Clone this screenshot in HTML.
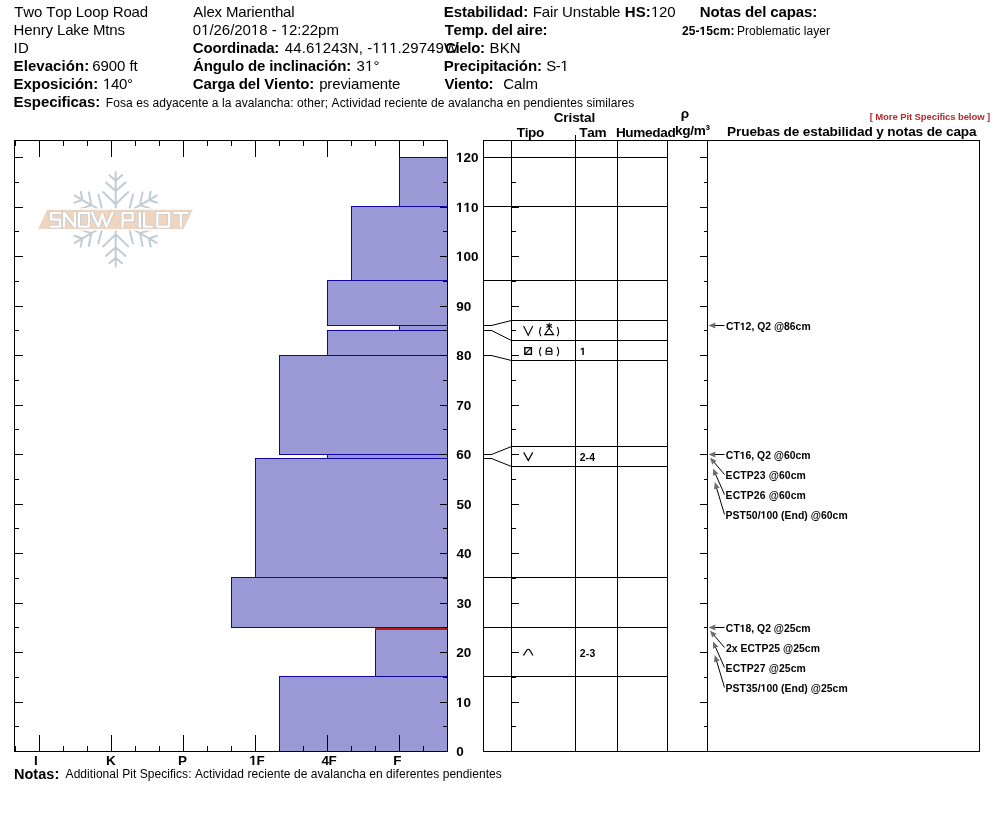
<!DOCTYPE html>
<html><head><meta charset="utf-8"><style>
html,body{margin:0;padding:0;background:#fff;overflow:hidden;}
svg{display:block;will-change:transform;}
text{font-family:"Liberation Sans", sans-serif;}
</style></head><body>
<svg width="994" height="840" viewBox="0 0 994 840">
<rect width="994" height="840" fill="#fff"/>
<defs><path id="r0" d="M515 0V-1237L197 -1010V-1180L530 -1409H696V0Z"/><path id="b1" d="M478 0V-1170L140 -959V-1180L493 -1409H759V0Z"/></defs>
<text x="14.26 23.30 34.01 42.22 46.27 55.30 63.52 71.73 75.78 83.99 92.21 100.43 108.64 112.68 123.39 131.61 139.82" y="17" font-size="15" fill="#000" xml:space="preserve">Two Top Loop Road</text>
<text x="13.57 24.27 32.47 40.68 45.54 52.90 56.93 65.14 73.34 80.71 88.91 92.95 105.30 109.34 117.54" y="35" font-size="15" fill="#000" xml:space="preserve">Henry Lake Mtns</text>
<text x="13.42 17.99" y="53" font-size="15" fill="#000" xml:space="preserve">ID</text>
<text x="13.60 23.66 27.88 36.28 44.68 53.08 61.48 65.71 74.93 84.15" y="71" font-size="15" font-weight="700" fill="#000" xml:space="preserve">Elevación:</text>
<text x="92.24 100.51 108.79 117.07 125.34 129.44 133.54" y="71" font-size="15" fill="#000" xml:space="preserve">6900 ft</text>
<text x="13.60 23.56 31.87 41.00 50.12 58.43 62.56 70.86 75.00 84.12 93.25" y="89" font-size="15" font-weight="700" fill="#000" xml:space="preserve">Exposición:</text>
<text x="102.96 110.94 118.92 126.90" y="89" font-size="15" fill="#000" xml:space="preserve"> 40°</text>
<text x="13.60 23.53 31.80 40.89 49.16 57.43 61.52 66.44 70.54 78.81 87.08 95.35" y="107" font-size="15" font-weight="700" fill="#000" xml:space="preserve">Especificas:</text>
<text x="105.82 113.22 119.96 126.04 132.78 136.19 142.93 149.01 152.41 159.16 165.91 171.98 178.72 184.80 191.54 198.29 201.69 208.44 211.85 218.59 222.00 224.74 231.48 234.89 241.64 247.71 254.45 257.19 263.94 270.68 276.76 283.50 290.25 293.65 297.06 303.81 307.21 313.96 320.71 324.77 328.18 331.59 339.66 345.73 349.14 351.88 357.95 360.69 367.44 374.18 380.93 384.33 388.40 395.15 401.22 403.96 410.71 417.45 420.86 427.60 431.01 437.76 444.50 447.91 454.65 460.73 467.47 470.21 476.96 483.70 489.78 496.52 503.27 506.67 513.42 520.17 523.57 530.32 537.06 543.81 550.56 553.29 560.04 566.79 570.19 576.94 583.01 586.42 592.49 595.23 605.30 608.03 610.77 617.52 621.59 628.33" y="107" font-size="12" fill="#000" xml:space="preserve">Fosa es adyacente a la avalancha: other; Actividad reciente de avalancha en pendientes similares</text>
<text x="193.37 203.22 206.40 214.59 221.94 225.95 238.29 246.48 251.32 254.50 262.69 270.88 274.89 283.08 291.27" y="17" font-size="15" fill="#000" xml:space="preserve">Alex Marienthal</text>
<text x="192.81 201.12 209.42 213.56 221.86 230.17 234.30 242.60 250.91 259.21 267.52 271.65 276.61 280.74 289.04 297.35 301.48 309.78 318.09 326.39" y="35" font-size="15" fill="#000" xml:space="preserve">0 /26/20 8 -  2:22pm</text>
<text x="192.78 203.44 212.43 221.41 227.07 236.06 240.05 249.03 257.20 266.18 274.35" y="53" font-size="15" font-weight="700" fill="#000" xml:space="preserve">Coordinada:</text>
<text x="284.86 293.26 301.67 305.91 314.32 322.73 331.14 339.55 347.95 358.85 363.09 367.32 372.39 380.79 389.20 397.61 401.85 410.26 418.67 427.08 435.48 443.89" y="53" font-size="15" fill="#000" xml:space="preserve">44.6 243N, -   .29749W</text>
<text x="193.03 203.74 212.78 221.82 230.87 234.92 243.96 248.01 257.05 265.27 269.32 273.37 282.41 290.63 294.68 298.73 307.77 315.99 324.21 328.26 337.30 346.35" y="71" font-size="15" font-weight="700" fill="#000" xml:space="preserve">Ángulo de inclinación:</text>
<text x="356.53 365.02 373.50" y="71" font-size="15" fill="#000" xml:space="preserve">3 °</text>
<text x="192.78 203.51 211.74 217.46 226.51 234.74 238.80 247.85 256.08 260.13 264.19 274.08 278.13 286.36 295.41 300.30 309.35" y="89" font-size="15" font-weight="700" fill="#000" xml:space="preserve">Carga del Viento:</text>
<text x="319.13 327.35 332.23 340.45 347.83 351.04 359.26 371.64 379.86 388.08 392.12" y="89" font-size="15" fill="#000" xml:space="preserve">previamente</text>
<text x="443.80 453.74 462.02 466.96 475.24 484.34 488.45 492.55 496.66 505.76 514.05 523.15" y="17" font-size="15" font-weight="700" fill="#000" xml:space="preserve">Estabilidad:</text>
<text x="532.67 541.72 549.94 553.16 558.03 562.08 572.80 581.02 588.41 592.46 600.68 608.91 612.12" y="17" font-size="15" fill="#000" xml:space="preserve">Fair Unstable</text>
<text x="624.80 635.69 645.75" y="17" font-size="15" font-weight="700" fill="#000" xml:space="preserve">HS:</text>
<text x="650.96 659.10 667.24" y="17" font-size="15" fill="#000" xml:space="preserve"> 20</text>
<text x="444.63 453.58 461.71 474.84 483.79 487.75 491.71 500.66 508.79 512.75 516.70 524.83 528.79 534.42 542.55" y="35" font-size="15" font-weight="700" fill="#000" xml:space="preserve">Temp. del aire:</text>
<text x="444.98 455.50 459.34 467.36 471.21 480.05" y="53" font-size="15" font-weight="700" fill="#000" xml:space="preserve">Cielo:</text>
<text x="489.57 499.63 509.69" y="53" font-size="15" fill="#000" xml:space="preserve">BKN</text>
<text x="443.80 453.73 459.49 467.76 476.03 480.13 489.22 493.31 498.23 506.50 514.77 518.87 527.96 537.05" y="71" font-size="15" font-weight="700" fill="#000" xml:space="preserve">Precipitación:</text>
<text x="546.15 555.76 560.35" y="71" font-size="15" fill="#000" xml:space="preserve">S- </text>
<text x="444.40 454.12 458.01 466.07 474.95 479.67 488.55" y="89" font-size="15" font-weight="700" fill="#000" xml:space="preserve">Viento:</text>
<text x="503.14 513.95 522.28 525.59" y="89" font-size="15" fill="#000" xml:space="preserve">Calm</text>
<text x="699.80 710.51 719.56 724.43 732.66 740.88 744.93 753.98 762.20 766.25 770.30 778.53 786.75 795.80 804.02 812.25" y="17" font-size="15" font-weight="700" fill="#000" xml:space="preserve">Notas del capas:</text>
<text x="681.88 688.65 695.41 699.50 706.27 713.03 719.80 730.56" y="35" font-size="12" font-weight="700" fill="#000" xml:space="preserve">25- 5cm:</text>
<text x="736.92 744.94 748.95 755.64 762.33 765.02 771.71 781.72 788.41 791.77 794.45 800.47 803.82 806.50 813.19 819.21 825.90" y="35" font-size="12" fill="#000" xml:space="preserve">Problematic layer</text>
<text x="13.93 24.45 33.36 38.24 46.35 54.47" y="779" font-size="14.5" font-weight="700" fill="#000" xml:space="preserve">Notas:</text>
<text x="65.58 73.63 80.35 87.08 89.79 93.17 95.89 102.61 109.34 116.06 118.77 122.16 130.21 132.93 136.31 139.69 147.75 154.47 161.19 167.24 169.96 173.34 176.05 182.10 188.15 191.54 194.92 202.97 209.02 212.40 215.12 221.17 223.88 230.61 237.33 244.05 247.44 251.48 258.21 264.25 266.97 273.69 280.42 283.80 290.52 293.91 300.63 307.35 310.73 317.46 323.51 330.23 332.95 339.67 346.39 352.44 359.16 365.89 369.27 375.99 382.72 386.10 392.82 395.54 398.92 405.64 409.69 416.41 423.14 426.52 433.24 439.29 442.67 449.40 456.12 462.84 469.57 472.28 479.00 485.73 489.11 495.83" y="778" font-size="12" fill="#000" xml:space="preserve">Additional Pit Specifics: Actividad reciente de avalancha en diferentes pendientes</text>
<text x="553.64 563.33 568.49 572.13 579.56 583.96 591.38" y="122" font-size="13.6" font-weight="700" fill="#000" xml:space="preserve">Cristal</text>
<text x="516.85 524.75 528.12 536.02" y="137" font-size="13.6" font-weight="700" fill="#000" xml:space="preserve">Tipo</text>
<text x="579.31 587.22 594.38" y="137" font-size="13.6" font-weight="700" fill="#000" xml:space="preserve">Tam</text>
<text x="615.89 625.37 633.33 645.08 652.30 660.27 667.49" y="137" font-size="13.6" font-weight="700" fill="#000" xml:space="preserve">Humedad</text>
<text x="674.95 682.21 690.21 693.68 705.46" y="135" font-size="13.6" font-weight="700" fill="#000" xml:space="preserve">kg/m³</text>
<text x="727.09 736.04 741.21 749.40 756.85 765.03 772.48 779.92 783.58 791.77 799.21 802.87 810.31 817.76 822.17 829.61 837.80 841.46 845.12 848.77 856.96 864.41 872.59 876.25 883.70 887.35 895.54 903.73 908.14 915.58 923.03 926.68 934.87 942.32 945.97 953.42 960.86 969.05" y="136" font-size="13.6" font-weight="700" fill="#000" xml:space="preserve">Pruebas de estabilidad y notas de capa</text>
<text x="869.67 872.74 875.28 883.10 888.81 892.42 897.60 900.15 906.39 908.94 912.01 914.56 920.80 926.51 931.70 936.89 939.43 942.50 945.05 950.24 955.43 957.97 963.68 968.87 971.42 977.13 984.42 986.97" y="120" font-size="9.5" font-weight="700" fill="#b52a2a" xml:space="preserve">[ More Pit Specifics below ]</text>
<text x="725.97 733.48 739.83 745.61 751.39 754.28 757.16 765.25 771.03 773.92 784.06 789.84 795.62 801.40" y="330" font-size="10.4" font-weight="700" fill="#000" xml:space="preserve">CT 2, Q2 @86cm</text>
<text x="725.87 733.38 739.73 745.51 751.29 754.18 757.06 765.15 770.93 773.82 783.96 789.74 795.52 801.30" y="459" font-size="10.4" font-weight="700" fill="#000" xml:space="preserve">CT 6, Q2 @60cm</text>
<text x="725.60 732.66 740.29 746.76 753.82 759.72 765.62 768.63 778.89 784.79 790.69 796.60" y="479" font-size="10.4" font-weight="700" fill="#000" xml:space="preserve">ECTP23 @60cm</text>
<text x="725.60 732.66 740.29 746.76 753.82 759.72 765.62 768.63 778.89 784.79 790.69 796.60" y="499" font-size="10.4" font-weight="700" fill="#000" xml:space="preserve">ECTP26 @60cm</text>
<text x="725.60 732.59 739.57 745.97 751.80 757.63 760.56 766.39 772.22 778.05 780.99 784.50 791.48 797.88 804.28 807.79 810.72 820.91 826.74 832.57 838.40" y="518.5" font-size="10.4" font-weight="700" fill="#000" xml:space="preserve">PST50/ 00 (End) @60cm</text>
<text x="725.87 733.38 739.73 745.51 751.29 754.18 757.06 765.15 770.93 773.82 783.96 789.74 795.52 801.30" y="632" font-size="10.4" font-weight="700" fill="#000" xml:space="preserve">CT 8, Q2 @25cm</text>
<text x="725.94 731.77 737.60 740.53 747.51 755.06 761.46 768.44 774.27 780.10 783.03 793.21 799.04 804.87 810.70" y="652" font-size="10.4" font-weight="700" fill="#000" xml:space="preserve">2x ECTP25 @25cm</text>
<text x="725.60 732.66 740.29 746.76 753.82 759.72 765.62 768.63 778.89 784.79 790.69 796.60" y="672" font-size="10.4" font-weight="700" fill="#000" xml:space="preserve">ECTP27 @25cm</text>
<text x="725.60 732.59 739.57 745.97 751.80 757.63 760.56 766.39 772.22 778.05 780.99 784.50 791.48 797.88 804.28 807.79 810.72 820.91 826.74 832.57 838.40" y="691.5" font-size="10.4" font-weight="700" fill="#000" xml:space="preserve">PST35/ 00 (End) @25cm</text>
<text x="680.70" y="118" font-size="13.6" font-weight="700" fill="#000" xml:space="preserve">ρ</text>
<text x="34.10" y="765" font-size="13.5" font-weight="700" fill="#000" xml:space="preserve">I</text>
<text x="106.00" y="765" font-size="13.5" font-weight="700" fill="#000" xml:space="preserve">K</text>
<text x="177.90" y="765" font-size="13.5" font-weight="700" fill="#000" xml:space="preserve">P</text>
<text x="249.29 256.40" y="765" font-size="13.5" font-weight="700" fill="#000" xml:space="preserve"> F</text>
<text x="321.47 328.58" y="765" font-size="13.5" font-weight="700" fill="#000" xml:space="preserve">4F</text>
<text x="393.20" y="765" font-size="13.5" font-weight="700" fill="#000" xml:space="preserve">F</text>
<rect x="399" y="157" width="48" height="49" fill="#9999d6"/>
<rect x="351" y="206" width="96" height="74" fill="#9999d6"/>
<rect x="327" y="280" width="120" height="45" fill="#9999d6"/>
<rect x="399" y="325" width="48" height="5" fill="#9999d6"/>
<rect x="327" y="330" width="120" height="25" fill="#9999d6"/>
<rect x="279" y="355" width="168" height="99" fill="#9999d6"/>
<rect x="327" y="454" width="120" height="4" fill="#9999d6"/>
<rect x="255" y="458" width="192" height="119" fill="#9999d6"/>
<rect x="231" y="577" width="216" height="50" fill="#9999d6"/>
<rect x="375" y="627" width="72" height="49" fill="#9999d6"/>
<rect x="279" y="676" width="168" height="75" fill="#9999d6"/>
<rect x="399" y="157" width="49" height="1" fill="#1206a6"/>
<rect x="399" y="157" width="1" height="50" fill="#1206a6"/>
<rect x="399" y="206" width="49" height="1" fill="#1206a6"/>
<rect x="351" y="206" width="97" height="1" fill="#1206a6"/>
<rect x="351" y="206" width="1" height="75" fill="#1206a6"/>
<rect x="351" y="280" width="97" height="1" fill="#1206a6"/>
<rect x="327" y="280" width="121" height="1" fill="#1206a6"/>
<rect x="327" y="280" width="1" height="46" fill="#1206a6"/>
<rect x="327" y="325" width="121" height="1" fill="#1206a6"/>
<rect x="399" y="325" width="49" height="1" fill="#1206a6"/>
<rect x="399" y="325" width="1" height="6" fill="#1206a6"/>
<rect x="399" y="330" width="49" height="1" fill="#1206a6"/>
<rect x="327" y="330" width="121" height="1" fill="#1206a6"/>
<rect x="327" y="330" width="1" height="26" fill="#1206a6"/>
<rect x="327" y="355" width="121" height="1" fill="#1206a6"/>
<rect x="279" y="355" width="169" height="1" fill="#1206a6"/>
<rect x="279" y="355" width="1" height="100" fill="#1206a6"/>
<rect x="279" y="454" width="169" height="1" fill="#1206a6"/>
<rect x="327" y="454" width="121" height="1" fill="#1206a6"/>
<rect x="327" y="454" width="1" height="5" fill="#1206a6"/>
<rect x="327" y="458" width="121" height="1" fill="#1206a6"/>
<rect x="255" y="458" width="193" height="1" fill="#1206a6"/>
<rect x="255" y="458" width="1" height="120" fill="#1206a6"/>
<rect x="255" y="577" width="193" height="1" fill="#1206a6"/>
<rect x="231" y="577" width="217" height="1" fill="#1206a6"/>
<rect x="231" y="577" width="1" height="51" fill="#1206a6"/>
<rect x="231" y="627" width="217" height="1" fill="#1206a6"/>
<rect x="375" y="627" width="73" height="1" fill="#1206a6"/>
<rect x="375" y="627" width="1" height="50" fill="#1206a6"/>
<rect x="375" y="676" width="73" height="1" fill="#1206a6"/>
<rect x="279" y="676" width="169" height="1" fill="#1206a6"/>
<rect x="279" y="676" width="1" height="76" fill="#1206a6"/>
<rect x="279" y="751" width="169" height="1" fill="#1206a6"/>
<rect x="375" y="628" width="72" height="2" fill="#b81c14"/>
<rect x="14" y="140" width="434" height="1" fill="#000"/>
<rect x="14" y="751" width="434" height="1" fill="#000"/>
<rect x="14" y="140" width="1" height="612" fill="#000"/>
<rect x="447" y="140" width="1" height="612" fill="#000"/>
<rect x="15" y="140" width="1" height="6" fill="#000"/>
<rect x="15" y="746" width="1" height="6" fill="#000"/>
<rect x="39" y="140" width="1" height="17" fill="#000"/>
<rect x="39" y="735" width="1" height="17" fill="#000"/>
<rect x="63" y="140" width="1" height="6" fill="#000"/>
<rect x="63" y="746" width="1" height="6" fill="#000"/>
<rect x="87" y="140" width="1" height="6" fill="#000"/>
<rect x="87" y="746" width="1" height="6" fill="#000"/>
<rect x="111" y="140" width="1" height="17" fill="#000"/>
<rect x="111" y="735" width="1" height="17" fill="#000"/>
<rect x="135" y="140" width="1" height="6" fill="#000"/>
<rect x="135" y="746" width="1" height="6" fill="#000"/>
<rect x="159" y="140" width="1" height="6" fill="#000"/>
<rect x="159" y="746" width="1" height="6" fill="#000"/>
<rect x="183" y="140" width="1" height="17" fill="#000"/>
<rect x="183" y="735" width="1" height="17" fill="#000"/>
<rect x="207" y="140" width="1" height="6" fill="#000"/>
<rect x="207" y="746" width="1" height="6" fill="#000"/>
<rect x="231" y="140" width="1" height="6" fill="#000"/>
<rect x="231" y="746" width="1" height="6" fill="#000"/>
<rect x="255" y="140" width="1" height="17" fill="#000"/>
<rect x="255" y="735" width="1" height="17" fill="#000"/>
<rect x="279" y="140" width="1" height="6" fill="#000"/>
<rect x="279" y="746" width="1" height="6" fill="#000"/>
<rect x="303" y="140" width="1" height="6" fill="#000"/>
<rect x="303" y="746" width="1" height="6" fill="#000"/>
<rect x="327" y="140" width="1" height="17" fill="#000"/>
<rect x="327" y="735" width="1" height="17" fill="#000"/>
<rect x="351" y="140" width="1" height="6" fill="#000"/>
<rect x="351" y="746" width="1" height="6" fill="#000"/>
<rect x="375" y="140" width="1" height="6" fill="#000"/>
<rect x="375" y="746" width="1" height="6" fill="#000"/>
<rect x="399" y="140" width="1" height="17" fill="#000"/>
<rect x="399" y="735" width="1" height="17" fill="#000"/>
<rect x="423" y="140" width="1" height="6" fill="#000"/>
<rect x="423" y="746" width="1" height="6" fill="#000"/>
<rect x="14" y="751" width="9" height="1" fill="#000"/>
<rect x="440" y="751" width="8" height="1" fill="#000"/>
<rect x="14" y="726" width="5" height="1" fill="#000"/>
<rect x="443" y="726" width="5" height="1" fill="#000"/>
<rect x="14" y="702" width="9" height="1" fill="#000"/>
<rect x="440" y="702" width="8" height="1" fill="#000"/>
<rect x="14" y="677" width="5" height="1" fill="#000"/>
<rect x="443" y="677" width="5" height="1" fill="#000"/>
<rect x="14" y="652" width="9" height="1" fill="#000"/>
<rect x="440" y="652" width="8" height="1" fill="#000"/>
<rect x="14" y="627" width="5" height="1" fill="#000"/>
<rect x="443" y="627" width="5" height="1" fill="#000"/>
<rect x="14" y="603" width="9" height="1" fill="#000"/>
<rect x="440" y="603" width="8" height="1" fill="#000"/>
<rect x="14" y="578" width="5" height="1" fill="#000"/>
<rect x="443" y="578" width="5" height="1" fill="#000"/>
<rect x="14" y="553" width="9" height="1" fill="#000"/>
<rect x="440" y="553" width="8" height="1" fill="#000"/>
<rect x="14" y="528" width="5" height="1" fill="#000"/>
<rect x="443" y="528" width="5" height="1" fill="#000"/>
<rect x="14" y="504" width="9" height="1" fill="#000"/>
<rect x="440" y="504" width="8" height="1" fill="#000"/>
<rect x="14" y="479" width="5" height="1" fill="#000"/>
<rect x="443" y="479" width="5" height="1" fill="#000"/>
<rect x="14" y="454" width="9" height="1" fill="#000"/>
<rect x="440" y="454" width="8" height="1" fill="#000"/>
<rect x="14" y="429" width="5" height="1" fill="#000"/>
<rect x="443" y="429" width="5" height="1" fill="#000"/>
<rect x="14" y="405" width="9" height="1" fill="#000"/>
<rect x="440" y="405" width="8" height="1" fill="#000"/>
<rect x="14" y="380" width="5" height="1" fill="#000"/>
<rect x="443" y="380" width="5" height="1" fill="#000"/>
<rect x="14" y="355" width="9" height="1" fill="#000"/>
<rect x="440" y="355" width="8" height="1" fill="#000"/>
<rect x="14" y="330" width="5" height="1" fill="#000"/>
<rect x="443" y="330" width="5" height="1" fill="#000"/>
<rect x="14" y="306" width="9" height="1" fill="#000"/>
<rect x="440" y="306" width="8" height="1" fill="#000"/>
<rect x="14" y="281" width="5" height="1" fill="#000"/>
<rect x="443" y="281" width="5" height="1" fill="#000"/>
<rect x="14" y="256" width="9" height="1" fill="#000"/>
<rect x="440" y="256" width="8" height="1" fill="#000"/>
<rect x="14" y="231" width="5" height="1" fill="#000"/>
<rect x="443" y="231" width="5" height="1" fill="#000"/>
<rect x="14" y="207" width="9" height="1" fill="#000"/>
<rect x="440" y="207" width="8" height="1" fill="#000"/>
<rect x="14" y="182" width="5" height="1" fill="#000"/>
<rect x="443" y="182" width="5" height="1" fill="#000"/>
<rect x="14" y="157" width="9" height="1" fill="#000"/>
<rect x="440" y="157" width="8" height="1" fill="#000"/>
<text x="456.27" y="756" font-size="13.5" font-weight="700" fill="#000" xml:space="preserve">0</text>
<text x="455.95 463.46" y="707" font-size="13.5" font-weight="700" fill="#000" xml:space="preserve"> 0</text>
<text x="456.33 463.84" y="657" font-size="13.5" font-weight="700" fill="#000" xml:space="preserve">20</text>
<text x="456.49 464.00" y="608" font-size="13.5" font-weight="700" fill="#000" xml:space="preserve">30</text>
<text x="456.60 464.10" y="558" font-size="13.5" font-weight="700" fill="#000" xml:space="preserve">40</text>
<text x="456.38 463.89" y="509" font-size="13.5" font-weight="700" fill="#000" xml:space="preserve">50</text>
<text x="456.31 463.81" y="459" font-size="13.5" font-weight="700" fill="#000" xml:space="preserve">60</text>
<text x="456.22 463.73" y="410" font-size="13.5" font-weight="700" fill="#000" xml:space="preserve">70</text>
<text x="456.37 463.88" y="360" font-size="13.5" font-weight="700" fill="#000" xml:space="preserve">80</text>
<text x="456.33 463.84" y="311" font-size="13.5" font-weight="700" fill="#000" xml:space="preserve">90</text>
<text x="455.95 463.46 470.97" y="261" font-size="13.5" font-weight="700" fill="#000" xml:space="preserve"> 00</text>
<text x="455.95 463.46 470.97" y="212" font-size="13.5" font-weight="700" fill="#000" xml:space="preserve">  0</text>
<text x="455.95 463.46 470.97" y="162" font-size="13.5" font-weight="700" fill="#000" xml:space="preserve"> 20</text>
<rect x="483" y="140" width="497" height="1" fill="#000"/>
<rect x="483" y="751" width="497" height="1" fill="#000"/>
<rect x="483" y="140" width="1" height="612" fill="#000"/>
<rect x="979" y="140" width="1" height="612" fill="#000"/>
<rect x="511" y="140" width="1" height="612" fill="#000"/>
<rect x="575" y="140" width="1" height="612" fill="#000"/>
<rect x="617" y="140" width="1" height="612" fill="#000"/>
<rect x="667" y="140" width="1" height="612" fill="#000"/>
<rect x="707" y="140" width="1" height="612" fill="#000"/>
<rect x="575" y="135" width="1" height="6" fill="#000"/>
<rect x="511" y="751" width="8" height="1" fill="#000"/>
<rect x="700" y="751" width="8" height="1" fill="#000"/>
<rect x="511" y="726" width="5" height="1" fill="#000"/>
<rect x="704" y="726" width="4" height="1" fill="#000"/>
<rect x="511" y="702" width="8" height="1" fill="#000"/>
<rect x="700" y="702" width="8" height="1" fill="#000"/>
<rect x="511" y="677" width="5" height="1" fill="#000"/>
<rect x="704" y="677" width="4" height="1" fill="#000"/>
<rect x="511" y="652" width="8" height="1" fill="#000"/>
<rect x="700" y="652" width="8" height="1" fill="#000"/>
<rect x="511" y="627" width="5" height="1" fill="#000"/>
<rect x="704" y="627" width="4" height="1" fill="#000"/>
<rect x="511" y="603" width="8" height="1" fill="#000"/>
<rect x="700" y="603" width="8" height="1" fill="#000"/>
<rect x="511" y="578" width="5" height="1" fill="#000"/>
<rect x="704" y="578" width="4" height="1" fill="#000"/>
<rect x="511" y="553" width="8" height="1" fill="#000"/>
<rect x="700" y="553" width="8" height="1" fill="#000"/>
<rect x="511" y="528" width="5" height="1" fill="#000"/>
<rect x="704" y="528" width="4" height="1" fill="#000"/>
<rect x="511" y="504" width="8" height="1" fill="#000"/>
<rect x="700" y="504" width="8" height="1" fill="#000"/>
<rect x="511" y="479" width="5" height="1" fill="#000"/>
<rect x="704" y="479" width="4" height="1" fill="#000"/>
<rect x="511" y="454" width="8" height="1" fill="#000"/>
<rect x="700" y="454" width="8" height="1" fill="#000"/>
<rect x="511" y="429" width="5" height="1" fill="#000"/>
<rect x="704" y="429" width="4" height="1" fill="#000"/>
<rect x="511" y="405" width="8" height="1" fill="#000"/>
<rect x="700" y="405" width="8" height="1" fill="#000"/>
<rect x="511" y="380" width="5" height="1" fill="#000"/>
<rect x="704" y="380" width="4" height="1" fill="#000"/>
<rect x="511" y="355" width="8" height="1" fill="#000"/>
<rect x="700" y="355" width="8" height="1" fill="#000"/>
<rect x="511" y="330" width="5" height="1" fill="#000"/>
<rect x="704" y="330" width="4" height="1" fill="#000"/>
<rect x="511" y="306" width="8" height="1" fill="#000"/>
<rect x="700" y="306" width="8" height="1" fill="#000"/>
<rect x="511" y="281" width="5" height="1" fill="#000"/>
<rect x="704" y="281" width="4" height="1" fill="#000"/>
<rect x="511" y="256" width="8" height="1" fill="#000"/>
<rect x="700" y="256" width="8" height="1" fill="#000"/>
<rect x="511" y="231" width="5" height="1" fill="#000"/>
<rect x="704" y="231" width="4" height="1" fill="#000"/>
<rect x="511" y="207" width="8" height="1" fill="#000"/>
<rect x="700" y="207" width="8" height="1" fill="#000"/>
<rect x="511" y="182" width="5" height="1" fill="#000"/>
<rect x="704" y="182" width="4" height="1" fill="#000"/>
<rect x="511" y="157" width="8" height="1" fill="#000"/>
<rect x="700" y="157" width="8" height="1" fill="#000"/>
<rect x="483" y="157" width="185" height="1" fill="#000"/>
<rect x="483" y="206" width="185" height="1" fill="#000"/>
<rect x="483" y="280" width="185" height="1" fill="#000"/>
<rect x="483" y="325" width="9" height="1" fill="#000"/>
<line x1="491.5" y1="325.5" x2="511.5" y2="320.5" stroke="#000" stroke-width="1"/>
<rect x="511" y="320" width="157" height="1" fill="#000"/>
<rect x="483" y="330" width="9" height="1" fill="#000"/>
<line x1="491.5" y1="330.5" x2="511.5" y2="340.5" stroke="#000" stroke-width="1"/>
<rect x="511" y="340" width="157" height="1" fill="#000"/>
<rect x="483" y="355" width="9" height="1" fill="#000"/>
<line x1="491.5" y1="355.5" x2="511.5" y2="360.5" stroke="#000" stroke-width="1"/>
<rect x="511" y="360" width="157" height="1" fill="#000"/>
<rect x="483" y="454" width="9" height="1" fill="#000"/>
<line x1="491.5" y1="454.5" x2="511.5" y2="446.5" stroke="#000" stroke-width="1"/>
<rect x="511" y="446" width="157" height="1" fill="#000"/>
<rect x="483" y="458" width="9" height="1" fill="#000"/>
<line x1="491.5" y1="458.5" x2="511.5" y2="466.5" stroke="#000" stroke-width="1"/>
<rect x="511" y="466" width="157" height="1" fill="#000"/>
<rect x="483" y="577" width="185" height="1" fill="#000"/>
<rect x="483" y="627" width="185" height="1" fill="#000"/>
<rect x="483" y="676" width="185" height="1" fill="#000"/>
<g fill="none" stroke="#000" stroke-width="1.1">
<path d="M523.6 326 L528.2 335.3 L532.8 326"/>
<path d="M541 327 Q538.2 331.6 541 336.2"/>
<path d="M544.8 334.6 L549.2 328.2 L553.6 334.6 Z"/>
<path d="M549.2 322.8 V328.6 M546.4 324.2 L552 327.4 M552 324.2 L546.4 327.4"/>
<path d="M557.2 327 Q560 331.6 557.2 336.2"/>
<rect x="524.8" y="347.7" width="6.6" height="6.6" stroke-width="1.4"/><path d="M524.8 354.3 L531.4 347.7"/>
<path d="M541 347 Q538.2 351.6 541 356.2"/>
<path d="M546.1 354.2 V350.6 A2.9 2.9 0 0 1 551.9 350.6 V354.2 Z M546.1 351.4 H551.9"/>
<path d="M557.2 347 Q560 351.6 557.2 356.2"/>
<path d="M523.7 452.4 L528.3 460.6 L532.7 452.4" stroke-width="1.2"/>
<path d="M523.4 655.5 L527 649.9 Q528.3 648.6 529.6 649.9 L533 655.5" stroke-width="1.2"/>
</g>
<text x="579.64 585.62 589.27" y="461" font-size="10.4" font-weight="700" fill="#000" xml:space="preserve">2-4</text>
<text x="579.64 585.78 589.59" y="657" font-size="10.4" font-weight="700" fill="#000" xml:space="preserve">2-3</text>
<line x1="724.5" y1="325.5" x2="713.5" y2="325.5" stroke="#000" stroke-width="1"/>
<path d="M708.5 325.5 L715.5 322.5 L714.9 325.5 L715.5 328.5 Z" fill="#6e6e6e"/>
<line x1="724.5" y1="454.5" x2="713.5" y2="454.5" stroke="#000" stroke-width="1"/>
<path d="M708.5 454.5 L715.5 451.5 L714.9 454.5 L715.5 457.5 Z" fill="#6e6e6e"/>
<line x1="724.5" y1="474.5" x2="713.2447330304137" y2="461.30416975979546" stroke="#000" stroke-width="1"/>
<path d="M710 457.5 L716.8251280984565 460.8789978454654 L714.1532582789296 462.36933729253815 L712.2601243867019 464.77267748196186 Z" fill="#6e6e6e"/>
<line x1="724.5" y1="494.5" x2="715.0225300738884" y2="473.07267668879143" stroke="#000" stroke-width="1"/>
<path d="M713 468.5 L718.5751481167188 473.6882293199749 L715.5888384945773 474.353026161653 L713.087936090169 476.1152654086411 Z" fill="#6e6e6e"/>
<line x1="724.5" y1="514.5" x2="716.2299756026267" y2="486.7911553696256" stroke="#000" stroke-width="1"/>
<path d="M714.8 482.0 L719.6766590654528 487.8496321558998 L716.6303687713622 488.13267887312077 L713.927272621902 489.5656028790519 Z" fill="#6e6e6e"/>
<line x1="724.5" y1="627.5" x2="713.5" y2="627.5" stroke="#000" stroke-width="1"/>
<path d="M708.5 627.5 L715.5 624.5 L714.9 627.5 L715.5 630.5 Z" fill="#6e6e6e"/>
<line x1="724.5" y1="647.5" x2="713.2447330304137" y2="634.3041697597954" stroke="#000" stroke-width="1"/>
<path d="M710 630.5 L716.8251280984565 633.8789978454654 L714.1532582789296 635.3693372925381 L712.2601243867019 637.7726774819619 Z" fill="#6e6e6e"/>
<line x1="724.5" y1="667.5" x2="715.0225300738884" y2="646.0726766887914" stroke="#000" stroke-width="1"/>
<path d="M713 641.5 L718.5751481167188 646.6882293199749 L715.5888384945773 647.353026161653 L713.087936090169 649.1152654086411 Z" fill="#6e6e6e"/>
<line x1="724.5" y1="687.5" x2="716.2299756026267" y2="659.7911553696257" stroke="#000" stroke-width="1"/>
<path d="M714.8 655.0 L719.6766590654528 660.8496321558998 L716.6303687713622 661.1326788731209 L713.927272621902 662.565602879052 Z" fill="#6e6e6e"/>
<g transform="translate(115.7 219.2)" stroke="#c2ccd3" stroke-width="2" fill="none" stroke-linecap="round">
<path transform="rotate(0)" d="M0 0 V-47.3 M0 -38.5 L-6.3 -44 M0 -38.5 L6.3 -44 M0 -28.1 L-9.8 -36.7 M0 -28.1 L9.8 -36.7 M0 -15 L-12.5 -27.2 M0 -15 L12.5 -27.2"/>
<path transform="rotate(60)" d="M0 0 V-47.3 M0 -38.5 L-6.3 -44 M0 -38.5 L6.3 -44 M0 -28.1 L-9.8 -36.7 M0 -28.1 L9.8 -36.7 M0 -15 L-12.5 -27.2 M0 -15 L12.5 -27.2"/>
<path transform="rotate(120)" d="M0 0 V-47.3 M0 -38.5 L-6.3 -44 M0 -38.5 L6.3 -44 M0 -28.1 L-9.8 -36.7 M0 -28.1 L9.8 -36.7 M0 -15 L-12.5 -27.2 M0 -15 L12.5 -27.2"/>
<path transform="rotate(180)" d="M0 0 V-47.3 M0 -38.5 L-6.3 -44 M0 -38.5 L6.3 -44 M0 -28.1 L-9.8 -36.7 M0 -28.1 L9.8 -36.7 M0 -15 L-12.5 -27.2 M0 -15 L12.5 -27.2"/>
<path transform="rotate(240)" d="M0 0 V-47.3 M0 -38.5 L-6.3 -44 M0 -38.5 L6.3 -44 M0 -28.1 L-9.8 -36.7 M0 -28.1 L9.8 -36.7 M0 -15 L-12.5 -27.2 M0 -15 L12.5 -27.2"/>
<path transform="rotate(300)" d="M0 0 V-47.3 M0 -38.5 L-6.3 -44 M0 -38.5 L6.3 -44 M0 -28.1 L-9.8 -36.7 M0 -28.1 L9.8 -36.7 M0 -15 L-12.5 -27.2 M0 -15 L12.5 -27.2"/>
</g>
<path d="M47.1 209.8 L192.9 209.8 L183.4 229 L38.1 229 Z" fill="#fff" stroke="#fff" stroke-width="3"/>
<path d="M47.1 209.8 L192.9 209.8 L183.4 229 L38.1 229 Z" fill="#eed5c0"/>
<path d="M60.2 212.8 H51.2 V219.7 H60.2 V226.6 H51.2 M64.2 226.6 V212.8 L74.8 226.6 V212.8 M78.9 212.8 H88.9 V226.6 H78.9 Z M92 212.8 L98.3 226.6 L102.3 214 L106.3 226.6 L112.5 212.8 M122.6 226.6 V212.8 H132.6 V220.4 H122.6 M139.8 212.8 V226.6 M144.2 212.8 V226.6 H151.6 M157.3 212.8 H169.2 V226.6 H157.3 Z M174.3 212.8 H187.3 M180.8 212.8 V226.6" fill="none" stroke="#bcc7cf" stroke-width="3.5" stroke-linejoin="round" stroke-linecap="square"/>
<path d="M60.2 212.8 H51.2 V219.7 H60.2 V226.6 H51.2 M64.2 226.6 V212.8 L74.8 226.6 V212.8 M78.9 212.8 H88.9 V226.6 H78.9 Z M92 212.8 L98.3 226.6 L102.3 214 L106.3 226.6 L112.5 212.8 M122.6 226.6 V212.8 H132.6 V220.4 H122.6 M139.8 212.8 V226.6 M144.2 212.8 V226.6 H151.6 M157.3 212.8 H169.2 V226.6 H157.3 Z M174.3 212.8 H187.3 M180.8 212.8 V226.6" fill="none" stroke="#ffffff" stroke-width="2.3" stroke-linejoin="round" stroke-linecap="square"/>
<use href="#r0" transform="translate(102.96 89) scale(0.007324)" fill="#000"/>
<use href="#r0" transform="translate(201.12 35) scale(0.007324)" fill="#000"/>
<use href="#r0" transform="translate(250.91 35) scale(0.007324)" fill="#000"/>
<use href="#r0" transform="translate(280.74 35) scale(0.007324)" fill="#000"/>
<use href="#r0" transform="translate(314.32 53) scale(0.007324)" fill="#000"/>
<use href="#r0" transform="translate(372.39 53) scale(0.007324)" fill="#000"/>
<use href="#r0" transform="translate(380.79 53) scale(0.007324)" fill="#000"/>
<use href="#r0" transform="translate(389.20 53) scale(0.007324)" fill="#000"/>
<use href="#r0" transform="translate(365.02 71) scale(0.007324)" fill="#000"/>
<use href="#r0" transform="translate(650.96 17) scale(0.007324)" fill="#000"/>
<use href="#r0" transform="translate(560.35 71) scale(0.007324)" fill="#000"/>
<use href="#b1" transform="translate(699.50 35) scale(0.005859)" fill="#000"/>
<use href="#b1" transform="translate(739.83 330) scale(0.005078)" fill="#000"/>
<use href="#b1" transform="translate(739.73 459) scale(0.005078)" fill="#000"/>
<use href="#b1" transform="translate(760.56 518.5) scale(0.005078)" fill="#000"/>
<use href="#b1" transform="translate(739.73 632) scale(0.005078)" fill="#000"/>
<use href="#b1" transform="translate(760.56 691.5) scale(0.005078)" fill="#000"/>
<use href="#b1" transform="translate(249.29 765) scale(0.006592)" fill="#000"/>
<use href="#b1" transform="translate(455.95 707) scale(0.006592)" fill="#000"/>
<use href="#b1" transform="translate(455.95 261) scale(0.006592)" fill="#000"/>
<use href="#b1" transform="translate(455.95 212) scale(0.006592)" fill="#000"/>
<use href="#b1" transform="translate(463.46 212) scale(0.006592)" fill="#000"/>
<use href="#b1" transform="translate(455.95 162) scale(0.006592)" fill="#000"/>
<use href="#b1" transform="translate(579.94 355) scale(0.005078)" fill="#000"/>
</svg></body></html>
